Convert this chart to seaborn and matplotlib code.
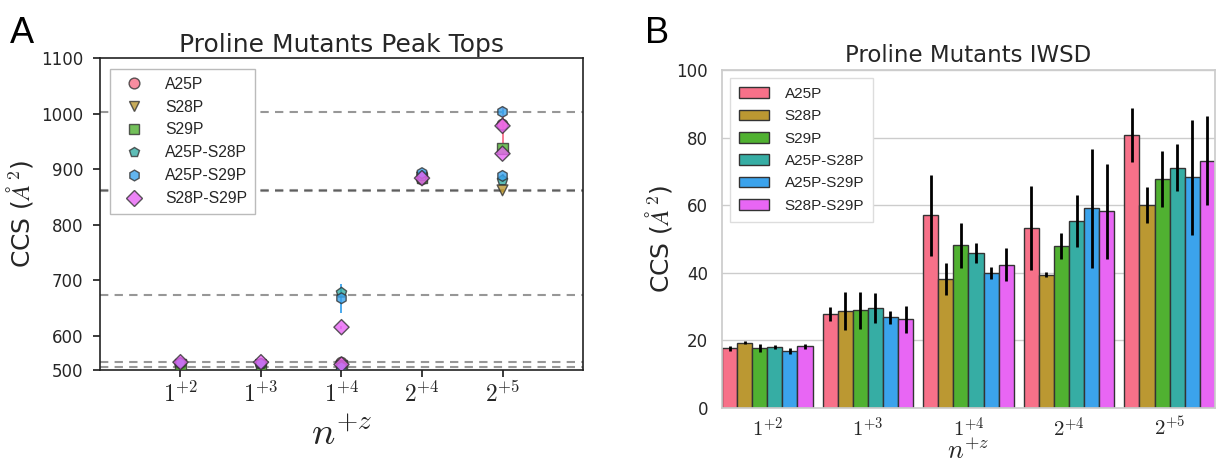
import numpy as np
import pandas as pd
import matplotlib
matplotlib.use("Agg")
import matplotlib.pyplot as plt
import seaborn as sns

# ---------------- data ----------------
mutants = ["A25P", "S28P", "S29P", "A25P-S28P", "A25P-S29P", "S28P-S29P"]
states = [r"$1^{+2}$", r"$1^{+3}$", r"$1^{+4}$", r"$2^{+4}$", r"$2^{+5}$"]
marker_list = ["o", "v", "s", "p", "h", "D"]

# Panel A: peak tops (long form; some mutants show two peaks)
pt_mutant = (["A25P"] * 5 + ["S28P"] * 5 + ["S29P"] * 5 + ["A25P-S28P"] * 6
             + ["A25P-S29P"] * 7 + ["S28P-S29P"] * 7)
pt_state = ([0, 1, 2, 3, 4] + [0, 1, 2, 3, 4] + [0, 1, 2, 3, 4]
            + [0, 1, 2, 2, 3, 4] + [0, 1, 2, 2, 3, 4, 4] + [0, 1, 2, 2, 3, 4, 4])
pt_ccs = ([549, 549, 552, 882, 980]
          + [545, 548, 545, 885, 862]
          + [549, 544, 547, 884, 937]
          + [552, 550, 546, 678, 888, 880]
          + [551, 550, 544, 668, 893, 1003, 888]
          + [553, 553, 549, 616, 884, 978, 928])
pt_err = ([2, 2, 10, 3, 32]
          + [4, 2, 3, 3, 3]
          + [2, 5, 3, 3, 3]
          + [2, 2, 3, 4, 3, 3]
          + [2, 2, 3, 26, 3, 3, 4]
          + [2, 2, 3, 3, 3, 3, 3])
ref_lines = [1003, 863, 861, 673, 553, 545]
left_yticks = [539, 600, 700, 800, 900, 1000, 1100]
left_yticklabels = ["500", "600", "700", "800", "900", "1000", "1100"]

# Panel B: IWSD bars
iwsd = {
    "A25P":      [17.7, 27.8, 57.0, 53.3, 80.8],
    "S28P":      [19.3, 28.7, 38.2, 39.4, 60.0],
    "S29P":      [17.7, 28.9, 48.1, 48.0, 67.8],
    "A25P-S28P": [18.1, 29.6, 45.9, 55.3, 71.1],
    "A25P-S29P": [17.0, 26.8, 40.0, 59.1, 68.2],
    "S28P-S29P": [18.2, 26.2, 42.4, 58.2, 73.2],
}
iwsd_err = {
    "A25P":      [0.7, 2.0, 12.0, 12.4, 7.9],
    "S28P":      [0.5, 5.5, 4.7, 0.7, 5.3],
    "S29P":      [1.1, 5.5, 6.7, 3.8, 8.3],
    "A25P-S28P": [0.6, 4.5, 3.0, 7.7, 6.9],
    "A25P-S29P": [0.9, 2.0, 1.8, 17.6, 16.9],
    "S28P-S29P": [0.7, 4.0, 4.8, 14.0, 13.2],
}

# ---------------- style ----------------
sns.set_theme()
plt.rcParams["font.family"] = ["Liberation Sans", "DejaVu Sans"]
plt.rcParams["mathtext.fontset"] = "cm"
plt.rcParams["legend.facecolor"] = "white"
pal = sns.color_palette("husl", 6)
colors = dict(zip(mutants, pal))

fig = plt.figure(figsize=(12.22, 4.68), dpi=100)

# ---------------- Panel A ----------------
with sns.axes_style("ticks"):
    axA = fig.add_axes([0.0818, 0.2094, 0.3953, 0.6667])

dfA = pd.DataFrame({"mutant": pt_mutant,
                    "state": [states[i] for i in pt_state],
                    "ccs": pt_ccs, "err": pt_err})

for y in ref_lines:
    axA.axhline(y, color="k", alpha=0.45, lw=1.5, ls=(0, (4, 3)), zorder=1)

for m in mutants:
    sub = dfA[dfA.mutant == m]
    xs = [states.index(s) for s in sub.state]
    axA.errorbar(xs, sub.ccs, yerr=sub.err, fmt="none", ecolor=colors[m],
                 elinewidth=1.3, capsize=0, zorder=2)

sns.scatterplot(data=dfA, x="state", y="ccs", hue="mutant", style="mutant",
                hue_order=mutants, style_order=mutants, markers=marker_list,
                palette=pal, s=60, edgecolor="#333333", linewidth=1.0,
                alpha=0.8, ax=axA, zorder=3)

axA.set_xlim(-1, 5)
axA.set_ylim(539, 1100)
axA.set_yticks(left_yticks)
axA.set_yticklabels(left_yticklabels)
for sp in axA.spines.values():
    sp.set_visible(True)
    sp.set_color("#222222")
    sp.set_linewidth(1.2)
axA.tick_params(axis="y", labelsize=12, direction="out", length=5, pad=7,
                color="#222222")
axA.tick_params(axis="x", labelsize=17, direction="out", length=5, color="#222222")
axA.set_xlabel(r"$n^{+z}$", fontsize=28, labelpad=6)
axA.set_ylabel(r"CCS ($\AA^2$)", fontsize=18)
axA.set_title("Proline Mutants Peak Tops", fontsize=18, pad=4)
axA.grid(False)
legA = axA.legend(loc="upper left", fontsize=11.3, frameon=True, fancybox=False,
                  labelspacing=0.5, borderpad=0.5, handletextpad=1.0,
                  bbox_to_anchor=(0.005, 0.99), framealpha=1.0)
legA.get_frame().set_edgecolor("#bbbbbb")
legA.get_frame().set_facecolor("white")
legA.get_frame().set_linewidth(1.0)

# ---------------- Panel B ----------------
with sns.axes_style("whitegrid"):
    axB = fig.add_axes([0.5908, 0.1282, 0.4034, 0.7222])

rows = []
for m in mutants:
    for i, s in enumerate(states):
        rows.append({"mutant": m, "state": s, "val": iwsd[m][i], "err": iwsd_err[m][i]})
dfB = pd.DataFrame(rows)

sns.barplot(data=dfB, x="state", y="val", hue="mutant", order=states,
            hue_order=mutants, palette=pal, errorbar=None, width=0.9,
            edgecolor="#333333", linewidth=1.0, saturation=1, ax=axB)

for m, cont in zip(mutants, axB.containers):
    xc = [b.get_x() + b.get_width() / 2 for b in cont]
    yv = [b.get_height() for b in cont]
    axB.errorbar(xc, yv, yerr=iwsd_err[m], fmt="none", ecolor="black",
                 elinewidth=2, capsize=0, zorder=4)

axB.set_xlim(-0.45, 4.45)
axB.set_ylim(0, 100)
axB.set_yticks([0, 20, 40, 60, 80, 100])
axB.tick_params(axis="y", labelsize=12, pad=4)
axB.tick_params(axis="x", labelsize=15, pad=0)
axB.set_xlabel(r"$n^{+z}$", fontsize=19, labelpad=-1)
axB.set_ylabel(r"CCS ($\AA^2$)", fontsize=18, labelpad=2)
axB.set_title("Proline Mutants IWSD", fontsize=16.5, pad=6)
legB = axB.legend(loc="upper left", fontsize=11, frameon=True, fancybox=False,
                  labelspacing=0.55, borderpad=0.6, handletextpad=1.0,
                  framealpha=1.0)
legB.get_frame().set_edgecolor("#dddddd")
legB.get_frame().set_facecolor("white")

fig.text(0.008, 0.965, "A", fontsize=26, va="top", ha="left", color="black")
fig.text(0.528, 0.965, "B", fontsize=26, va="top", ha="left", color="black")

fig.savefig("out.png", dpi=100)
